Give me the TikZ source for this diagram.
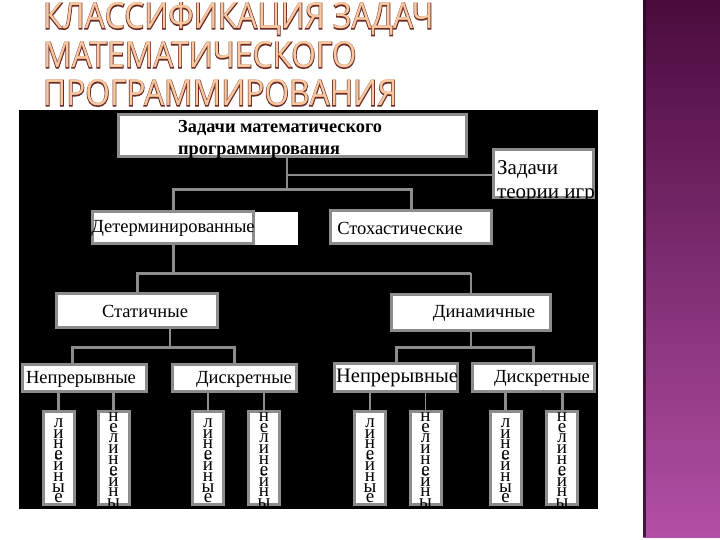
\documentclass[tikz,border=0pt]{standalone}
\usepackage{fontspec}
\setmainfont{Liberation Serif}
\newfontfamily\titlefont{Open Sans}
\newfontfamily\titleout[FakeBold=4]{Open Sans}
\usetikzlibrary{calc}
\definecolor{boxgray}{HTML}{8C8C8C}
\definecolor{ttlfill}{HTML}{F9C8A0}
\definecolor{ttlline}{HTML}{6B2A24}
\definecolor{purtop}{HTML}{4A0B3C}
\definecolor{purmid}{HTML}{7E3170}
\definecolor{purbot}{HTML}{B24FA6}
\tikzset{
  box/.style={draw=boxgray, line width=3pt, fill=white, inner sep=0pt, font=\fontsize{18.5}{20}\selectfont},
  vbox/.style={box, minimum width=31pt, minimum height=93pt},
  boxtext/.style={inner sep=0pt, font=\fontsize{18.5}{20}\selectfont},
  conn/.style={draw=boxgray, line width=3pt},
  thinconn/.style={draw=boxgray, line width=1.5pt},
  vstack/.style={inner sep=0pt, anchor=north, align=center, font={\fontsize{19}{10.8}\selectfont\lineskiplimit=-100pt\relax}},
  ttl/.style={inner sep=0pt, anchor=base west, font=\titlefont\fontsize{36}{36}\selectfont},
  ttlo/.style={inner sep=0pt, anchor=base west, font=\titleout\fontsize{36}{36}\selectfont},
}
\newcommand\outlinetext[3]{%
  \node[ttlo, text=ttlline] at (#2) {\scalebox{0.88}[1]{#3}};
  \node[ttl, text=ttlfill] (#1) at (#2) {\scalebox{0.88}[1]{#3}};
}
\newcommand\lin{л\\и\\н\\е\\й\\н\\ы\\е}
\newcommand\nelin{н\\е\\л\\и\\н\\е\\й\\н\\ы\\е}
\newcommand\vword[4]{%
  \begin{scope}
    \clip (#1.north west) rectangle (#1.south east);
    \node[vstack] (#1t) at (#2,#3) {#4};
  \end{scope}
}
\begin{document}
\begin{tikzpicture}[x=1pt,y=-1pt]
\useasboundingbox (0,0) rectangle (720,540);
\fill[white] (0,0) rectangle (720,540);
% purple strip
\shade[top color=purtop, middle color=purmid, bottom color=purbot] (643,0) rectangle (720,537);
\fill[purtop!60!black, opacity=0.8] (643,0) rectangle (646,537);
% title
\outlinetext{t1}{43,29}{КЛАССИФИКАЦИЯ ЗАДАЧ}
\outlinetext{t2}{43,68}{МАТЕМАТИЧЕСКОГО}
\outlinetext{t3}{43,106}{ПРОГРАММИРОВАНИЯ}
% black panel
\fill[black] (19,110) rectangle (598,509);
% boxes
\node[box, minimum width=348pt, minimum height=42pt] (top) at (292.5,135.5) {};
\node[anchor=west, align=left, inner sep=0pt, font=\bfseries\fontsize{18.3}{22}\selectfont] (toptext) at (178,139) {Задачи математического\\программирования};
\node[box, minimum width=100pt, minimum height=48pt] (game) at (543.5,173.5) {};
\begin{scope}
  \clip (game.north west) rectangle (game.south east);
  \node[anchor=west, align=left, inner sep=0pt, font=\fontsize{21}{24}\selectfont] (gametext) at (497,182) {Задачи\\теории игр};
\end{scope}
\fill[white] (255,212) rectangle (298,245);
\node[box, minimum width=161pt, minimum height=32pt] (det) at (173,227.5) {};
\node[boxtext] (dett) at (173,228) {Детерминированные};
\node[box, minimum width=161pt, minimum height=33pt] (sto) at (411,227) {};
\node[boxtext] (stot) at (400,228) {Стохастические};
\node[box, minimum width=161pt, minimum height=34pt] (stat) at (137,310.5) {};
\node[boxtext] (statt) at (145,311) {Статичные};
\node[box, minimum width=159pt, minimum height=36pt] (dyn) at (471,312.5) {};
\node[boxtext] (dynt) at (484,313) {Динамичные};
\node[box, minimum width=124pt, minimum height=27pt] (n1) at (84.5,378) {};
\node[boxtext] (n1t) at (81,379) {Непрерывные};
\node[box, minimum width=124pt, minimum height=27pt] (d1) at (234.5,378) {};
\node[boxtext] (d1t) at (244,379) {Дискретные};
\node[box, minimum width=123pt, minimum height=28pt] (n2) at (396,377.5) {};
\node[boxtext, font=\fontsize{20.5}{22}\selectfont] (n2t) at (397,378) {Непрерывные};
\node[box, minimum width=122pt, minimum height=28pt] (d2) at (533.5,377.5) {};
\node[boxtext] (d2t) at (542,378) {Дискретные};
\node[vbox] (v1) at (58.5,458) {};
\node[vbox] (v2) at (113.5,458) {};
\node[vbox] (v3) at (208,458) {};
\node[vbox] (v4) at (264,458) {};
\node[vbox] (v5) at (370,458) {};
\node[vbox] (v6) at (425.5,458) {};
\node[vbox] (v7) at (505.5,458) {};
\node[vbox] (v8) at (562,458) {};
\vword{v1}{58.5}{418.3}{\lin}
\vword{v2}{113.5}{412.3}{\nelin}
\vword{v3}{208}{418.3}{\lin}
\vword{v4}{264}{412.3}{\nelin}
\vword{v5}{370}{418.3}{\lin}
\vword{v6}{425.5}{412.3}{\nelin}
\vword{v7}{505.5}{418.3}{\lin}
\vword{v8}{562}{412.3}{\nelin}
% connectors
\coordinate (j0) at (287,175);
\coordinate (j1) at (287,190);
\draw[thinconn] (top.south -| j1) -- (j1);
\draw[thinconn] (j0) -- (j0 -| game.west);
\draw[conn] (det.north) |- (j1) -| (sto.north);
\coordinate (j2) at (172,273);
\draw[conn] (det.south) |- (j2);
\draw[conn] (stat.north) |- (j2) -- (j2 -| dyn.north);
\draw[thinconn] (j2 -| dyn.north) -- (dyn.north);
\coordinate (j3) at (170,347);
\coordinate (j3a) at (72,347);
\draw[thinconn] (stat.south -| j3) -- (j3);
\draw[conn] (j3a |- n1.north) -- (j3a) -| (d1.north);
\coordinate (j4) at (471,347);
\draw[thinconn] (dyn.south) -- (j4);
\draw[conn] (n2.north) |- (j4) -| (d2.north);
\draw[conn] (v1.north) -- (v1.north |- n1.south);
\draw[conn] (v2.north) -- (v2.north |- n1.south);
\draw[thinconn] (v3.north) -- (v3.north |- d1.south);
\draw[thinconn] (v4.north) -- (v4.north |- d1.south);
\draw[thinconn] (v5.north) -- (v5.north |- n2.south);
\draw[thinconn] (v6.north) -- (v6.north |- n2.south);
\draw[conn] (v7.north) -- (v7.north |- d2.south);
\draw[conn] (v8.north) -- (v8.north |- d2.south);
\end{tikzpicture}
\end{document}
